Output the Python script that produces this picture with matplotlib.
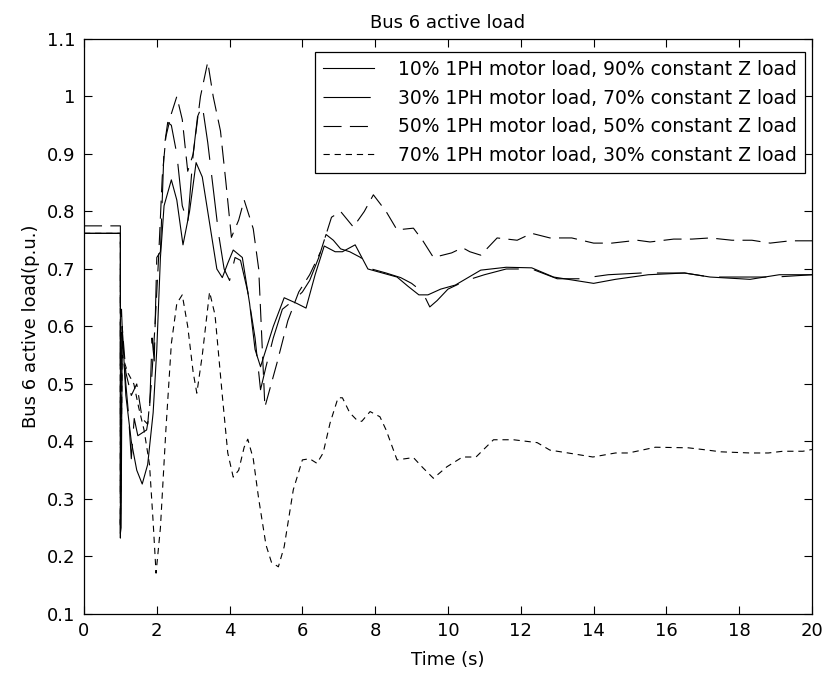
import numpy as np
import matplotlib
matplotlib.use("Agg")
import matplotlib.pyplot as plt

plt.rcParams['font.family'] = ['DejaVu Sans']
plt.rcParams['lines.scale_dashes'] = False

# --- data (time in s, load in p.u.) ---
t_10 = [0, 1.0, 1.0, 1.02, 1.05, 1.15, 1.3, 1.45, 1.6, 1.75, 1.9, 2.0, 2.1, 2.2, 2.4, 2.55,
        2.72, 2.9, 3.08, 3.25, 3.45, 3.65, 3.8, 3.95, 4.1, 4.35, 4.55, 4.7, 4.85, 5.0, 5.2,
        5.5, 5.85, 6.1, 6.35, 6.6, 6.9, 7.1, 7.45, 7.8, 8.2, 8.6, 8.9, 9.2, 9.45, 9.8, 10.2,
        10.9, 11.6, 12.3, 12.9, 13.5, 14.0, 14.6, 15.5, 16.5, 17.2, 18.3, 19.1, 20]
p_10 = [0.762, 0.762, 0.24, 0.25, 0.60, 0.48, 0.40, 0.35, 0.326, 0.36, 0.45, 0.56, 0.72,
        0.81, 0.855, 0.82, 0.742, 0.80, 0.885, 0.86, 0.78, 0.70, 0.685, 0.71, 0.733, 0.72,
        0.64, 0.56, 0.53, 0.56, 0.60, 0.65, 0.64, 0.632, 0.69, 0.74, 0.73, 0.73, 0.742, 0.70,
        0.693, 0.686, 0.67, 0.655, 0.655, 0.665, 0.672, 0.698, 0.703, 0.702, 0.686, 0.68,
        0.675, 0.682, 0.69, 0.693, 0.686, 0.682, 0.69, 0.69]

t_30 = [0, 1.0, 1.0, 1.03, 1.08, 1.15, 1.22, 1.3, 1.38, 1.48, 1.6, 1.72, 1.8, 1.87, 1.93,
        2.0, 2.1, 2.2, 2.3, 2.4, 2.55, 2.7, 2.85, 3.0, 3.12, 3.25, 3.4, 3.55, 3.7, 3.85, 4.0,
        4.15, 4.3, 4.5, 4.7, 4.85, 5.0, 5.2, 5.45, 5.75, 6.0, 6.2, 6.45, 6.65, 6.85, 7.05,
        7.3, 7.6, 7.9, 8.3, 8.7, 9.0, 9.3, 9.5, 9.7, 10.0, 10.5, 11.0, 11.6, 12.3, 13.0, 13.6,
        14.4, 15.3, 16.5, 17.2, 18.0, 19.0, 20]
p_30 = [0.762, 0.762, 0.232, 0.63, 0.55, 0.50, 0.45, 0.37, 0.44, 0.41, 0.415, 0.42, 0.45,
        0.58, 0.54, 0.72, 0.73, 0.91, 0.955, 0.95, 0.90, 0.81, 0.78, 0.90, 0.965, 0.985, 0.92,
        0.84, 0.76, 0.70, 0.68, 0.72, 0.715, 0.66, 0.58, 0.49, 0.53, 0.58, 0.63, 0.645, 0.66,
        0.68, 0.72, 0.76, 0.75, 0.735, 0.73, 0.72, 0.70, 0.693, 0.685, 0.675, 0.66, 0.634,
        0.645, 0.665, 0.68, 0.69, 0.70, 0.70, 0.683, 0.683, 0.69, 0.693, 0.693, 0.686, 0.686,
        0.686, 0.69]

t_50 = [0, 1.0, 1.0, 1.05, 1.15, 1.3, 1.45, 1.6, 1.75, 1.85, 1.95, 2.05, 2.15, 2.25, 2.4,
        2.55, 2.7, 2.85, 3.0, 3.2, 3.4, 3.55, 3.75, 3.9, 4.05, 4.25, 4.4, 4.65, 4.8, 4.97,
        5.3, 5.6, 5.9, 6.2, 6.5, 6.8, 7.05, 7.4, 7.7, 7.95, 8.3, 8.6, 9.05, 9.3, 9.6, 10.1,
        10.4, 10.6, 10.9, 11.35, 11.9, 12.3, 12.8, 13.4, 14.0, 14.5, 15.2, 15.55, 16.2, 16.7,
        17.2, 17.8, 18.35, 18.85, 19.4, 20]
p_50 = [0.775, 0.775, 0.25, 0.6, 0.52, 0.48, 0.50, 0.44, 0.43, 0.5, 0.6, 0.72, 0.86, 0.93,
        0.97, 1.0, 0.96, 0.87, 0.90, 1.0, 1.06, 1.0, 0.94, 0.85, 0.755, 0.785, 0.82, 0.77,
        0.70, 0.46, 0.536, 0.61, 0.66, 0.69, 0.73, 0.79, 0.80, 0.773, 0.80, 0.829, 0.80,
        0.768, 0.771, 0.75, 0.72, 0.728, 0.737, 0.73, 0.724, 0.754, 0.75, 0.762, 0.754,
        0.754, 0.745, 0.745, 0.75, 0.747, 0.752, 0.752, 0.754, 0.75, 0.75, 0.745, 0.749, 0.749]

t_70 = [0, 1.0, 1.0, 1.05, 1.2, 1.37, 1.5, 1.65, 1.8, 1.9, 1.98, 2.1, 2.25, 2.4, 2.55, 2.7,
        2.85, 3.0, 3.1, 3.25, 3.45, 3.6, 3.8, 3.95, 4.1, 4.25, 4.4, 4.5, 4.65, 4.8, 5.0, 5.15,
        5.34, 5.5, 5.75, 6.0, 6.2, 6.4, 6.57, 6.76, 6.98, 7.1, 7.3, 7.5, 7.63, 7.86, 8.13,
        8.3, 8.6, 9.05, 9.3, 9.6, 9.97, 10.4, 10.77, 11.25, 11.8, 12.45, 12.8, 13.3, 13.98,
        14.6, 14.96, 15.7, 16.6, 17.0, 17.5, 18.3, 18.8, 19.2, 19.75, 20]
p_70 = [0.762, 0.762, 0.25, 0.55, 0.52, 0.50, 0.46, 0.42, 0.36, 0.26, 0.171, 0.25, 0.42,
        0.57, 0.64, 0.655, 0.60, 0.52, 0.484, 0.55, 0.66, 0.62, 0.48, 0.38, 0.338, 0.35,
        0.39, 0.404, 0.37, 0.30, 0.22, 0.19, 0.182, 0.217, 0.316, 0.368, 0.37, 0.362, 0.38,
        0.432, 0.476, 0.476, 0.45, 0.437, 0.435, 0.452, 0.443, 0.42, 0.368, 0.372, 0.355,
        0.336, 0.356, 0.373, 0.373, 0.403, 0.403, 0.398, 0.385, 0.38, 0.373, 0.38, 0.38,
        0.39, 0.389, 0.386, 0.382, 0.38, 0.38, 0.383, 0.383, 0.386]

labels = ['10% 1PH motor load, 90% constant Z load',
          '30% 1PH motor load, 70% constant Z load',
          '50% 1PH motor load, 50% constant Z load',
          '70% 1PH motor load, 30% constant Z load']

# line styles: solid, very long dash, long dash, short dash (dash lengths in points)
series = [
    (t_10, p_10, '-'),
    (t_30, p_30, (0, (34, 11))),
    (t_50, p_50, (0, (13, 6))),
    (t_70, p_70, (0, (4.5, 3.5))),
]

FS = 13

fig = plt.figure(figsize=(8.29, 6.77), dpi=100)
ax = fig.add_axes([0.1013, 0.0931, 0.8782, 0.8493])

for (t, p, ls), lab in zip(series, labels):
    ax.plot(t, p, color='black', linewidth=0.8, linestyle=ls, label=lab)

yt = np.round(np.arange(0.1, 1.11, 0.1), 1)
ax.set_xlim(0, 20)
ax.set_ylim(0.1, 1.1)
ax.set_xticks(np.arange(0, 21, 2))
ax.set_yticks(yt)
ax.set_yticklabels([f'{v:g}' for v in yt])
ax.tick_params(direction='in', top=True, right=True, length=5.8, width=0.8,
               labelsize=FS, pad=6)
for s in ax.spines.values():
    s.set_linewidth(0.9)

ax.set_title('Bus 6 active load', fontsize=FS, pad=8)
ax.set_xlabel('Time (s)', fontsize=FS, labelpad=8)
ax.set_ylabel('Bus 6 active load(p.u.)', fontsize=FS, labelpad=5)

leg = ax.legend(loc='upper right', bbox_to_anchor=(0.9904, 0.9774), borderaxespad=0,
                fontsize=13.5, frameon=True, fancybox=False, edgecolor='black',
                framealpha=1, handlelength=2.7, handletextpad=1.3,
                labelspacing=0.51, borderpad=0.43)
leg.get_frame().set_linewidth(0.9)

fig.savefig('out.png', dpi=100)
